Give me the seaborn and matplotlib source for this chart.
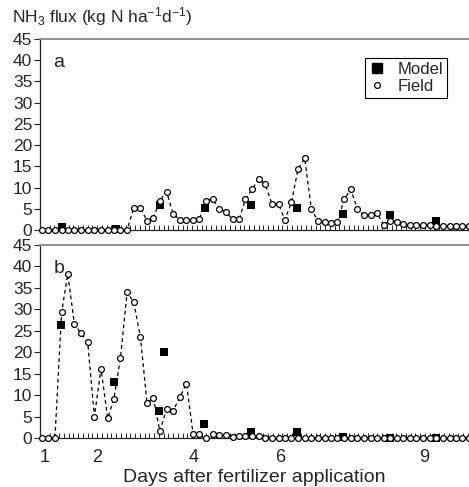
import numpy as np
import pandas as pd
import matplotlib
matplotlib.use('Agg')
import matplotlib.pyplot as plt
from matplotlib.lines import Line2D
from matplotlib.ticker import MultipleLocator
import seaborn as sns

# ---- data ----
# field sampling times (days after fertilizer application)
field_day = [0.93, 1.07, 1.21, 1.35, 1.48, 1.62, 1.76, 1.90, 2.04, 2.18,
             2.32, 2.45, 2.59, 2.73, 2.87, 3.01, 3.15, 3.28, 3.42, 3.56,
             3.70, 3.84, 3.98, 4.12, 4.25, 4.39, 4.53, 4.67, 4.81, 4.95,
             5.09, 5.22, 5.36, 5.50, 5.64, 5.78, 5.92, 6.05, 6.19, 6.33,
             6.47, 6.61, 6.75, 6.89, 7.02, 7.16, 7.30, 7.44, 7.58, 7.72,
             7.86, 7.99, 8.13, 8.27, 8.41, 8.55, 8.69, 8.82, 8.96, 9.10,
             9.24, 9.38, 9.52, 9.66, 9.79, 9.93]

# panel a - field NH3 flux
field_a = [0, 0, 0, 0, 0, 0, 0, 0, 0, 0,
           0, 0, 0, 0, 5.3, 5.3, 2.1, 2.8, 6.9, 9.0,
           3.8, 2.4, 2.4, 2.3, 2.5, 6.9, 7.3, 5.0, 4.3, 2.5,
           2.5, 7.2, 9.6, 12.0, 10.8, 6.1, 6.1, 2.4, 6.5, 14.4,
           16.9, 4.9, 2.1, 1.9, 1.6, 1.9, 7.2, 9.6, 4.9, 3.5,
           3.5, 4.1, 1.2, 2.2, 1.9, 1.3, 1.2, 1.2, 1.2, 1.2,
           1.0, 1.0, 1.0, 1.0, 1.0, 1.0]

# panel b - field NH3 flux
field_b = [0, 0, 0, 29.3, 38.2, 26.5, 24.4, 22.3, 5.0, 16.2,
           4.6, 9.1, 18.7, 34.0, 31.6, 23.5, 8.1, 9.4, 1.6, 6.8,
           6.4, 9.5, 12.7, 0.9, 0.9, 0, 1.0, 0.6, 0.6, 0.3,
           0.4, 0.5, 0.5, 0.4, 0, 0, 0, 0, 0, 0,
           0, 0, 0, 0, 0, 0, 0, 0, 0, 0,
           0, 0, 0, 0, 0, 0, 0, 0, 0, 0,
           0, 0, 0, 0, 0, 0]

# model output
model_day_a = [1.35, 2.49, 3.42, 4.37, 5.33, 6.31, 7.27, 8.27, 9.24]
model_a = [0.6, 0.2, 5.8, 5.3, 5.8, 5.3, 3.8, 3.6, 2.1]

model_day_b = [1.34, 2.45, 3.40, 3.50, 4.35, 5.34, 6.31, 7.28, 8.26, 9.23]
model_b = [26.3, 13.0, 6.3, 20.0, 3.3, 1.4, 1.5, 0.3, 0, 0]

tick_pos = [1.0, 2.09, 4.12, 5.95, 8.98]
tick_lab = ['1', '2', '4', '6', '9']

# ---- style ----
sns.set_style('ticks')
plt.rcParams['font.family'] = ['Liberation Sans', 'DejaVu Sans']
plt.rcParams['mathtext.default'] = 'regular'

fig = plt.figure(figsize=(4.69, 4.87), dpi=100)
ax_a = fig.add_axes([40 / 469, 1 - 230 / 487, 429 / 469, 191 / 487])
ax_b = fig.add_axes([40 / 469, 1 - 438 / 487, 429 / 469, 193 / 487])


def draw_panel(ax, field, mday, model, letter, ly):
    sns.scatterplot(x=mday, y=model, ax=ax, marker='s', color='black',
                    s=38, linewidth=0, zorder=3, clip_on=False)
    sns.lineplot(x=field_day, y=field, ax=ax, color='black',
                 linestyle=(0, (3, 2.5)), linewidth=0.9, marker='o',
                 markersize=4.2, markerfacecolor='white',
                 markeredgecolor='black', markeredgewidth=0.9,
                 zorder=4, clip_on=False)
    ax.set_xlim(0.895, 9.93)
    ax.set_ylim(0, 45)
    ax.set_yticks(range(0, 50, 5))
    ax.set_xticks(tick_pos)
    ax.set_xticklabels(tick_lab)
    ax.xaxis.set_minor_locator(MultipleLocator(0.1))
    ax.tick_params(axis='y', direction='out', length=4, width=0.8,
                   labelsize=12.5, pad=1.5)
    ax.tick_params(axis='x', which='major', length=0, labelsize=13, pad=8)
    ax.tick_params(axis='x', which='minor', direction='in', length=3.5,
                   width=0.7)
    ax.spines['right'].set_visible(False)
    ax.spines['top'].set_color('#888888')
    ax.spines['top'].set_linewidth(1.3)
    ax.spines['left'].set_linewidth(0.9)
    ax.spines['bottom'].set_linewidth(0.9)
    ax.set_xlabel('')
    ax.set_ylabel('')
    ax.text(0.044, ly, letter, transform=ax.transAxes, fontsize=14,
            ha='center', va='center')


draw_panel(ax_a, field_a, model_day_a, model_a, 'a', 0.875)
draw_panel(ax_b, field_b, model_day_b, model_b, 'b', 0.88)

ax_a.tick_params(axis='x', labelbottom=False)
ax_b.set_xlabel('Days after fertilizer application', fontsize=14, labelpad=2)

handles = [Line2D([], [], marker='s', color='black', linestyle='none', markersize=6.5),
           Line2D([], [], marker='o', markerfacecolor='white', markeredgecolor='black',
                  markeredgewidth=0.9, linestyle='none', markersize=4.2)]
leg = ax_a.legend(handles, ['Model', 'Field'], loc='upper right',
                  bbox_to_anchor=(0.949, 0.90), frameon=True, fancybox=False,
                  edgecolor='black', framealpha=1, fontsize=12,
                  handlelength=1.0, handletextpad=0.7, borderpad=0.25,
                  labelspacing=0.1, borderaxespad=0)
leg.get_frame().set_linewidth(0.8)

fig.text(12 / 469, 1 - 17 / 487, r'NH$_3$ flux (kg N ha$^{-1}$d$^{-1}$)',
         fontsize=12.5, ha='left', va='center')

fig.savefig('out.png', dpi=100)
